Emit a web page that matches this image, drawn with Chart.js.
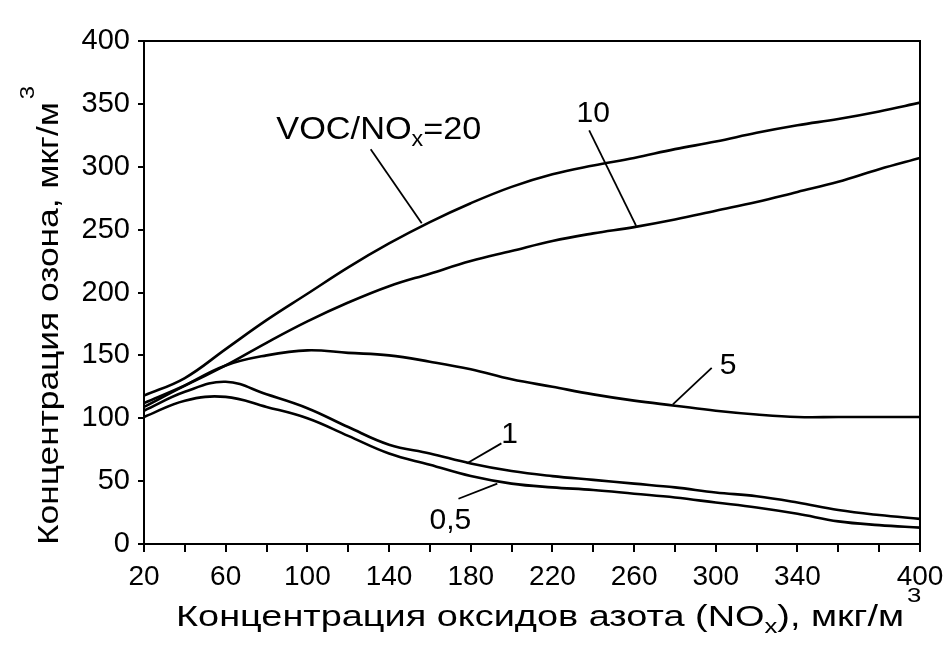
<!DOCTYPE html>
<html>
<head>
<meta charset="utf-8">
<script src="https://cdn.jsdelivr.net/npm/chart.js@4.4.1/dist/chart.umd.min.js"></script>
<style>
  html, body { margin: 0; background: #fff; }
  #wrap { width: 946px; height: 646px; }
</style>
</head>
<body>
<div id="wrap"><canvas id="chart"></canvas></div>
<script>
// NOx concentration, мкг/м3 (x values shared by all curves)
const nox = [20, 40, 60, 80, 100, 120, 140, 160, 180, 200, 220, 240, 260, 280, 300, 320, 340, 360, 380, 400];
// ozone concentration for each VOC/NOx ratio
const ratio20 = [118, 132, 155, 178, 199, 220, 239, 256, 271, 284, 294, 301, 307, 314, 320, 327, 333, 338, 344, 351];
const ratio10 = [112, 126, 142, 160, 177, 192, 205, 215, 225, 233, 241, 247, 252, 258, 265, 272, 280, 288, 298, 307];
const ratio5  = [109, 126, 142, 150, 154, 152, 150, 145, 139, 131, 125, 119, 114, 110, 106, 103, 101, 101, 101, 101];
const ratio1  = [106, 121, 129, 119, 108, 93, 79, 72, 64, 58, 54, 51, 48, 45, 41, 38, 33, 27, 23, 20];
const ratio05 = [101, 114, 117, 109, 100, 86, 72, 63, 54, 48, 45, 43, 40, 37, 33, 29, 24, 18, 15, 13];
const xLabelled = [20, 60, 100, 140, 180, 220, 260, 300, 340, 400];

// curve labels: text, text anchor and leader line in data units
const curveNotes = [
  { parts: [{ t: "VOC/NO" }, { t: "x", sub: true }, { t: "=20" }], at: [135, 331], fit: 205, line: [[131, 314], [156, 255]] },
  { parts: [{ t: "10" }],  at: [240, 344], line: [[238, 329], [261, 253]] },
  { parts: [{ t: "5" }],   at: [306, 144], line: [[298, 140], [279, 111]] },
  { parts: [{ t: "1" }],   at: [199, 89],  line: [[195, 80], [178, 64]] },
  { parts: [{ t: "0,5" }], at: [170, 21],  line: [[174, 36], [193, 48]] },
];

const SANS = "'Liberation Sans', Arial, Helvetica, sans-serif";

function partsWidth(ctx, parts, size, family){
  let w = 0;
  for (const p of parts){
    ctx.font = `${(p.sub || p.sup) ? size * 0.68 : size}px ${family}`;
    w += ctx.measureText(p.t).width;
  }
  return w;
}
// draws rich text with left baseline at (0,0); optionally squeezes the main text to fitW
function drawParts(ctx, parts, size, family, fitW){
  const main = parts.filter(p => !p.sup);
  const natural = partsWidth(ctx, main, size, family);
  const sx = fitW ? fitW / natural : 1;
  ctx.save();
  ctx.scale(sx, 1);
  ctx.textAlign = "left";
  ctx.textBaseline = "alphabetic";
  let x = 0;
  for (const p of parts){
    const small = p.sub || p.sup;
    ctx.font = `${small ? size * 0.68 : size}px ${family}`;
    const dy = p.sub ? size * 0.22 : p.sup ? -size * 0.8 : 0;
    ctx.fillText(p.t, x + (p.sup ? size * 0.08 : 0), dy);
    x += ctx.measureText(p.t).width;
  }
  ctx.restore();
}

const decorations = {
  id: "decorations",
  afterDraw(chart){
    const { ctx, chartArea: a, scales: { x, y } } = chart;
    ctx.save();
    ctx.strokeStyle = "#000";
    ctx.fillStyle = "#000";
    // frame: top and right borders
    ctx.lineWidth = 2;
    ctx.beginPath();
    ctx.moveTo(a.left, a.top);
    ctx.lineTo(a.right, a.top);
    ctx.lineTo(a.right, a.bottom);
    ctx.stroke();

    // curve labels with leader lines
    ctx.lineWidth = 1.8;
    for (const n of curveNotes){
      ctx.beginPath();
      ctx.moveTo(x.getPixelForValue(n.line[0][0]), y.getPixelForValue(n.line[0][1]));
      ctx.lineTo(x.getPixelForValue(n.line[1][0]), y.getPixelForValue(n.line[1][1]));
      ctx.stroke();
      const size = n.fit ? 32 : 30;
      const w = n.fit || partsWidth(ctx, n.parts, size, SANS);
      ctx.save();
      ctx.translate(x.getPixelForValue(n.at[0]) - w / 2, y.getPixelForValue(n.at[1]) + 11);
      drawParts(ctx, n.parts, size, SANS, n.fit);
      ctx.restore();
    }

    // axis titles
    ctx.save();
    ctx.translate(58, a.bottom + 1);
    ctx.rotate(-Math.PI / 2);
    drawParts(ctx, [{ t: "Концентрация озона, мкг/м" }, { t: "3", sup: true }], 30, SANS, 443);
    ctx.restore();

    ctx.save();
    ctx.translate(176, 626);
    drawParts(ctx, [{ t: "Концентрация оксидов азота (NO" }, { t: "x", sub: true }, { t: "), мкг/м" }, { t: "3", sup: true }], 30, SANS, 728);
    ctx.restore();
    ctx.restore();
  }
};

function curve(values){
  return {
    data: nox.map((v, i) => ({ x: v, y: values[i] })),
    borderColor: "#000",
    borderWidth: 2.6,
    pointRadius: 0,
    tension: 0.4,
    fill: false,
  };
}

new Chart(document.getElementById("chart"), {
  type: "line",
  data: { datasets: [curve(ratio20), curve(ratio10), curve(ratio5), curve(ratio1), curve(ratio05)] },
  options: {
    responsive: true,
    maintainAspectRatio: false,
    animation: false,
    layout: { padding: { top: 41, right: 26, left: 0, bottom: 0 } },
    plugins: { legend: { display: false }, tooltip: { enabled: false } },
    scales: {
      x: {
        type: "linear", min: 20, max: 400,
        afterFit: s => { s.height = 102; s.paddingLeft = 0; s.paddingRight = 0; },
        ticks: {
          stepSize: 20, autoSkip: false, maxRotation: 0, padding: 8, color: "#000",
          font: { family: SANS, size: 28 },
          callback: v => xLabelled.includes(v) ? String(v) : "",
        },
        grid: { drawOnChartArea: false, drawTicks: true, tickLength: 8, color: "#000", lineWidth: 2 },
        border: { display: true, color: "#000", width: 2 },
      },
      y: {
        min: 0, max: 400,
        afterFit: s => { s.width = 144; s.paddingTop = 0; s.paddingBottom = 0; },
        ticks: { stepSize: 50, padding: 8, color: "#000", font: { family: SANS, size: 29 } },
        grid: { drawOnChartArea: false, drawTicks: true, tickLength: 6, color: "#000", lineWidth: 2 },
        border: { display: true, color: "#000", width: 2 },
      },
    },
  },
  plugins: [decorations],
});
</script>
</body>
</html>
